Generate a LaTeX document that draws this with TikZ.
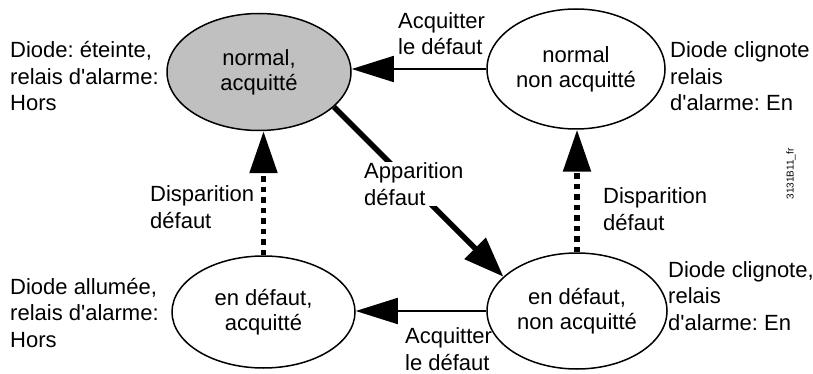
\documentclass[tikz,border=0pt]{standalone}
\usepackage{fontspec}
\newfontfamily\arial{Liberation Sans}
\usetikzlibrary{arrows.meta,shapes.geometric}
\definecolor{stategray}{RGB}{192,192,192}
\frenchspacing
\begin{document}
\begin{tikzpicture}[x=1pt,y=-1pt,
  txt/.style={font=\arial\fontsize{22}{25}\selectfont, inner sep=0pt},
  side/.style={font=\arial\fontsize{22}{26.5}\selectfont, inner sep=0pt, align=left, anchor=base west},
  state/.style={ellipse, draw, line width=1.5pt, inner sep=0pt, txt, align=center},
  thinarrow/.style={line width=1.7pt, -{Triangle[length=42pt,width=26pt]}},
  dotarrow/.style={line width=5.5pt, dash pattern=on 5.5pt off 5pt, -{Triangle[length=42pt,width=27pt]}},
  thickarrow/.style={line width=5.5pt, -{Triangle[length=40pt,width=29pt]}}
]
\useasboundingbox (0,0) rectangle (813,374);

% states
\node[state, fill=stategray, minimum width=184pt, minimum height=117pt] (n1) at (259,72) {normal,\\acquitté};
\node[state, minimum width=178pt, minimum height=120pt] (n2) at (576,69) {normal\\non acquitté};
\node[state, minimum width=183pt, minimum height=112pt] (n3) at (263.5,312) {en défaut,\\acquitté};
\node[state, minimum width=180pt, minimum height=116pt] (n4) at (577,311) {en défaut,\\non acquitté};

% connectors
\draw[thinarrow] (n2.west) -- (n1.east |- n2.west);
\draw[thinarrow] (n4.west) -- (n3.east |- n4.west);
\draw[dotarrow] (n3.north) -- (n3.north |- n1.south);
\draw[dotarrow] (n4.north) -- (n4.north |- n2.south);
\draw[thickarrow] (n1.-25) -- (n4.155);

% transition labels (coordinates: baseline of the last line)
\node[side] (lacq1) at (398,55) {Acquitter\\le défaut};
\node[side] (lacq2) at (405,370) {Acquitter\\le défaut};
\node[side, fill=white, inner sep=1pt] (lapp) at (363,205) {Apparition\\défaut};
\node[side] (ldis1) at (150,228) {Disparition\\défaut};
\node[side] (ldis2) at (603,230) {Disparition\\défaut};

% state descriptions
\node[side] (dtl) at (10,111) {Diode: éteinte,\\relais d'alarme:\\Hors};
\node[side] (dtr) at (670,111) {Diode clignote\\relais\\d'alarme: En};
\node[side] (dbl) at (10,347) {Diode allumée,\\relais d'alarme:\\Hors};
\node[side] (dbr) at (668,330) {Diode clignote,\\relais\\d'alarme: En};

% figure id
\node[font=\arial\fontsize{10}{12}\selectfont, rotate=90, inner sep=0pt] (fid) at (791,174) {3131B11\_fr};
\end{tikzpicture}
\end{document}
